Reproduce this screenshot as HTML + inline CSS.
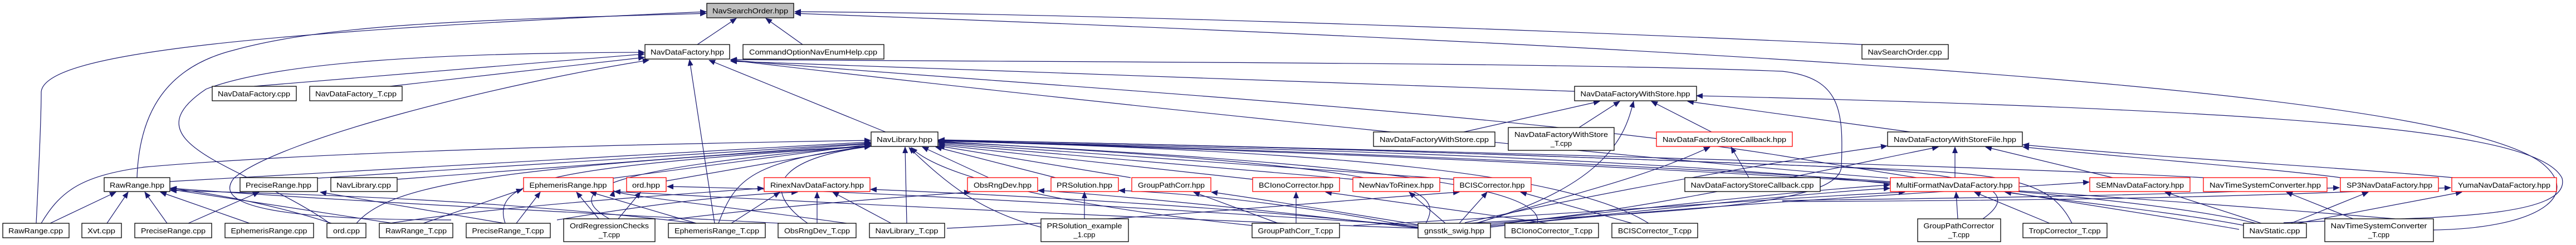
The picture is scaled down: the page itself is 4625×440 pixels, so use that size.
<!DOCTYPE html>
<html><head><meta charset="utf-8"><style>
html,body{margin:0;padding:0;background:#fff;}
svg{display:block;}
text{font-family:"Liberation Sans",Arial,sans-serif;font-size:13px;fill:#000;}
.e{fill:none;stroke:#191970;stroke-width:1.2;marker-end:url(#a);}
.n{fill:#fff;stroke:#000;stroke-width:1.3;}
.r{fill:#fff;stroke:#f00;stroke-width:1.3;}
</style></head><body>
<svg width="4625" height="440" viewBox="0 0 4625 440" xmlns="http://www.w3.org/2000/svg">
<defs><marker id="a" markerUnits="userSpaceOnUse" markerWidth="12" markerHeight="10" refX="11" refY="5" orient="auto"><path d="M0,0 L12,5 L0,10 z" fill="#191970"/></marker></defs>
<g>
<!-- to NavSearchOrder.hpp -->
<path class="e" d="M1252,80 L1322,33"/>
<path class="e" d="M1441,80 L1375,33"/>
<path class="e" d="M65,401 C70,300 74,200 74,165 C80,100 400,60 1268,21"/>
<path class="e" d="M246,319 C250,200 300,120 420,90 C600,40 900,35 1268,24"/>
<path class="e" d="M3343,80 C2800,55 2000,25 1427,21"/>
<path class="e" d="M4369,413 C4560,410 4640,350 4560,290 C4400,180 3500,100 1427,24"/>
<path class="e" d="M4100,400 C4300,390 4620,400 4600,320 C4560,240 4200,200 3046,172"/>
<!-- to NavDataFactory.hpp -->
<path class="e" d="M456,155 L1157,97"/>
<path class="e" d="M700,155 L1157,103"/>
<path class="e" d="M592,401 C450,300 220,260 370,160 C500,110 800,95 1157,94"/>
<path class="e" d="M810,395 C500,395 380,370 420,320 C500,250 900,150 1165,108"/>
<path class="e" d="M1283,401 L1238,107"/>
<path class="e" d="M1590,237 L1273,108"/>
<path class="e" d="M2635,401 C3000,380 3300,370 3306,300 C3310,200 3306,140 3200,128 C2800,112 2000,112 1312,107"/>
<path class="e" d="M2827,164 C2300,150 1800,125 1312,110"/>
<path class="e" d="M3390,320 C3000,290 2000,190 1312,108"/>
<path class="e" d="M4020,412 C3900,390 3500,330 3200,280 C2700,200 1800,150 1312,108"/>
<!-- to NavDataFactoryWithStore.hpp -->
<path class="e" d="M2628,237 L2872,182"/>
<path class="e" d="M2835,229 L2908,182"/>
<path class="e" d="M2650,401 C2900,330 2920,230 2933,182"/>
<path class="e" d="M3073,237 L2965,182"/>
<path class="e" d="M3430,237 L3030,182"/>
<!-- to NavDataFactoryStoreCallback.hpp -->
<path class="e" d="M2650,401 C2850,340 2950,320 3070,264"/>
<path class="e" d="M3140,319 L3108,264"/>
<!-- to NavDataFactoryWithStoreFile.hpp -->
<path class="e" d="M2630,400 C2900,340 3250,280 3388,262"/>
<path class="e" d="M3510,319 L3510,264"/>
<path class="e" d="M2676,401 C2900,390 3300,300 3480,264"/>
<path class="e" d="M3793,319 L3565,264"/>
<path class="e" d="M4404,319 C4200,300 3900,285 3632,260"/>
<path class="e" d="M4202,319 C4100,305 3900,290 3632,264"/>
<!-- to NavLibrary.hpp (left) -->
<path class="e" d="M74,401 C110,340 150,315 260,300 C600,270 1200,258 1563,252"/>
<path class="e" d="M305,326 L1563,255"/>
<path class="e" d="M570,320 L1563,257"/>
<path class="e" d="M713,322 L1563,258"/>
<path class="e" d="M1101,320 L1563,259"/>
<path class="e" d="M1196,325 L1563,261"/>
<path class="e" d="M640,401 C700,330 900,300 1563,262"/>
<path class="e" d="M907,401 C880,320 1000,300 1563,262"/>
<path class="e" d="M1094,393 C1000,340 1100,300 1563,262"/>
<path class="e" d="M1290,401 C1320,320 1350,290 1563,262"/>
<path class="e" d="M1450,401 C1350,330 1420,280 1563,263"/>
<!-- to NavLibrary.hpp (bottom/right) -->
<path class="e" d="M1628,401 L1625,264"/>
<path class="e" d="M1775,319 L1656,264"/>
<path class="e" d="M1895,319 L1680,264"/>
<path class="e" d="M2030,319 L1685,262"/>
<path class="e" d="M2249,322 L1685,260"/>
<path class="e" d="M2429,322 L1685,258"/>
<path class="e" d="M2610,322 L1685,256"/>
<path class="e" d="M1869,408 C1760,380 1700,330 1632,265"/>
<path class="e" d="M2248,405 C2000,380 1700,330 1636,265"/>
<path class="e" d="M2560,401 C2600,330 2500,300 1685,254"/>
<path class="e" d="M2760,401 C2780,330 2400,290 1685,255"/>
<path class="e" d="M2960,401 C2800,300 2300,270 1685,253"/>
<path class="e" d="M3394,330 C3000,290 2500,270 1685,253"/>
<path class="e" d="M3560,393 C3650,330 3500,310 3300,300 C2800,280 2200,260 1685,252"/>
<path class="e" d="M3720,401 C3680,320 3600,310 3300,300 C2800,280 2200,260 1685,252"/>
<path class="e" d="M3956,319 C3600,300 2600,270 1685,251"/>
<path class="e" d="M4050,401 C3800,340 3000,290 1685,252"/>
<path class="e" d="M4300,393 C3900,360 3000,290 1685,253"/>
<!-- RawRange.hpp -->
<path class="e" d="M90,401 L208,345"/>
<path class="e" d="M192,401 L230,345"/>
<path class="e" d="M300,401 L260,345"/>
<path class="e" d="M448,401 L288,345"/>
<path class="e" d="M595,401 C500,370 400,350 306,338"/>
<path class="e" d="M705,401 L306,340"/>
<path class="e" d="M1250,401 C900,360 600,350 306,342"/>
<path class="e" d="M1400,401 C1000,380 600,360 306,338"/>
<!-- PreciseRange.hpp -->
<path class="e" d="M338,401 L465,345"/>
<path class="e" d="M905,401 L575,345"/>
<!-- EphemerisRange.hpp -->
<path class="e" d="M927,401 L970,345"/>
<path class="e" d="M1075,393 L1035,345"/>
<path class="e" d="M1250,401 L1060,345"/>
<path class="e" d="M760,401 L938,340"/>
<path class="e" d="M1520,401 C1300,370 1100,350 1102,342"/>
<path class="e" d="M2546,410 C2000,390 1400,360 1103,344"/>
<!-- ord.hpp -->
<path class="e" d="M1110,393 L1150,345"/>
<path class="e" d="M2550,405 C2000,370 1500,340 1198,335"/>
<!-- RinexNavDataFactory -->
<path class="e" d="M1313,401 L1400,345"/>
<path class="e" d="M1467,401 L1467,345"/>
<path class="e" d="M1600,401 L1495,345"/>
<path class="e" d="M700,401 C900,370 1200,350 1371,338"/>
<path class="e" d="M1000,395 C1150,370 1300,350 1432,345"/>
<path class="e" d="M2548,408 C2200,370 1800,350 1563,340"/>
<!-- ObsRngDev.hpp, PRSolution, GroupPathCorr -->
<path class="e" d="M1200,395 C1400,370 1600,355 1742,345"/>
<path class="e" d="M2548,410 C2300,380 2000,350 1864,342"/>
<path class="e" d="M1947,393 L1947,345"/>
<path class="e" d="M2550,410 C2400,380 2200,350 2009,342"/>
<path class="e" d="M2295,401 L2143,345"/>
<path class="e" d="M2555,405 C2400,380 2250,355 2175,345"/>
<!-- BCIono, NewNav, BCIS -->
<path class="e" d="M2327,401 L2327,345"/>
<path class="e" d="M2780,401 L2380,345"/>
<path class="e" d="M2595,401 L2530,345"/>
<path class="e" d="M2620,401 L2670,345"/>
<path class="e" d="M1700,410 C2100,390 2400,360 2620,345"/>
<path class="e" d="M2930,401 L2730,345"/>
<!-- MultiFormat, SEM, NavTSC, SP3, Yuma -->
<path class="e" d="M3515,393 L3512,345"/>
<path class="e" d="M3680,401 L3545,345"/>
<path class="e" d="M4030,405 C3900,380 3700,360 3600,345"/>
<path class="e" d="M2676,404 C2900,380 3200,345 3393,332"/>
<path class="e" d="M2676,406 C2900,385 3200,350 3393,338"/>
<path class="e" d="M2430,405 C2900,380 3200,355 3420,345"/>
<path class="e" d="M4060,401 L3887,345"/>
<path class="e" d="M2676,408 C3000,370 3500,345 3751,327"/>
<path class="e" d="M4225,393 L4105,345"/>
<path class="e" d="M4113,401 L4252,345"/>
<path class="e" d="M4125,401 L4420,345"/>
<path class="e" d="M3200,360 C3600,355 3900,350 4200,337"/>
<path class="e" d="M3200,362 C3700,360 4000,355 4400,337"/>
</g>
<g>
<rect x="1269" y="6" width="156" height="26" fill="#bfbfbf" stroke="#000" stroke-width="1.3"/><text x="1347" y="24" text-anchor="middle" textLength="136" lengthAdjust="spacingAndGlyphs">NavSearchOrder.hpp</text>

<rect class="n" x="1158" y="80" width="152" height="26"/><text x="1234" y="98" text-anchor="middle" textLength="132" lengthAdjust="spacingAndGlyphs">NavDataFactory.hpp</text>
<rect class="n" x="1334" y="80" width="253" height="26"/><text x="1460" y="98" text-anchor="middle" textLength="230" lengthAdjust="spacingAndGlyphs">CommandOptionNavEnumHelp.cpp</text>
<rect class="n" x="3343" y="80" width="155" height="26"/><text x="3420" y="98" text-anchor="middle" textLength="133" lengthAdjust="spacingAndGlyphs">NavSearchOrder.cpp</text>

<rect class="n" x="381" y="155" width="151" height="26"/><text x="456" y="173" text-anchor="middle" textLength="130" lengthAdjust="spacingAndGlyphs">NavDataFactory.cpp</text>
<rect class="n" x="556" y="155" width="166" height="26"/><text x="639" y="173" text-anchor="middle" textLength="146" lengthAdjust="spacingAndGlyphs">NavDataFactory_T.cpp</text>
<rect class="n" x="2827" y="155" width="219" height="26"/><text x="2936" y="173" text-anchor="middle" textLength="197" lengthAdjust="spacingAndGlyphs">NavDataFactoryWithStore.hpp</text>

<rect class="n" x="1564" y="237" width="120" height="26"/><text x="1624" y="255" text-anchor="middle" textLength="100" lengthAdjust="spacingAndGlyphs">NavLibrary.hpp</text>
<rect class="n" x="2466" y="237" width="218" height="26"/><text x="2575" y="255" text-anchor="middle" textLength="196" lengthAdjust="spacingAndGlyphs">NavDataFactoryWithStore.cpp</text>
<rect class="n" x="2708" y="229" width="190" height="41"/><text x="2803" y="246" text-anchor="middle" textLength="168" lengthAdjust="spacingAndGlyphs">NavDataFactoryWithStore</text><text x="2803" y="262" text-anchor="middle">_T.cpp</text>
<rect class="r" x="2974" y="237" width="244" height="26"/><text x="3096" y="255" text-anchor="middle" textLength="222" lengthAdjust="spacingAndGlyphs">NavDataFactoryStoreCallback.hpp</text>
<rect class="n" x="3389" y="237" width="242" height="26"/><text x="3510" y="255" text-anchor="middle" textLength="220" lengthAdjust="spacingAndGlyphs">NavDataFactoryWithStoreFile.hpp</text>

<rect class="n" x="187" y="319" width="118" height="25"/><text x="246" y="337" text-anchor="middle" textLength="98" lengthAdjust="spacingAndGlyphs">RawRange.hpp</text>
<rect class="n" x="431" y="319" width="139" height="25"/><text x="500" y="337" text-anchor="middle" textLength="118" lengthAdjust="spacingAndGlyphs">PreciseRange.hpp</text>
<rect class="n" x="594" y="319" width="119" height="25"/><text x="653" y="337" text-anchor="middle" textLength="98" lengthAdjust="spacingAndGlyphs">NavLibrary.cpp</text>
<rect class="r" x="940" y="319" width="161" height="25"/><text x="1020" y="337" text-anchor="middle" textLength="139" lengthAdjust="spacingAndGlyphs">EphemerisRange.hpp</text>
<rect class="r" x="1125" y="319" width="71" height="25"/><text x="1160" y="337" text-anchor="middle" textLength="50" lengthAdjust="spacingAndGlyphs">ord.hpp</text>
<rect class="r" x="1372" y="319" width="190" height="25"/><text x="1467" y="337" text-anchor="middle" textLength="168" lengthAdjust="spacingAndGlyphs">RinexNavDataFactory.hpp</text>
<rect class="r" x="1737" y="319" width="126" height="25"/><text x="1800" y="337" text-anchor="middle" textLength="104" lengthAdjust="spacingAndGlyphs">ObsRngDev.hpp</text>
<rect class="r" x="1887" y="319" width="121" height="25"/><text x="1947" y="337" text-anchor="middle" textLength="100" lengthAdjust="spacingAndGlyphs">PRSolution.hpp</text>
<rect class="r" x="2032" y="319" width="142" height="25"/><text x="2103" y="337" text-anchor="middle" textLength="120" lengthAdjust="spacingAndGlyphs">GroupPathCorr.hpp</text>
<rect class="r" x="2249" y="319" width="156" height="25"/><text x="2327" y="337" text-anchor="middle" textLength="134" lengthAdjust="spacingAndGlyphs">BCIonoCorrector.hpp</text>
<rect class="r" x="2429" y="319" width="156" height="25"/><text x="2507" y="337" text-anchor="middle" textLength="134" lengthAdjust="spacingAndGlyphs">NewNavToRinex.hpp</text>
<rect class="r" x="2610" y="319" width="139" height="25"/><text x="2679" y="337" text-anchor="middle" textLength="117" lengthAdjust="spacingAndGlyphs">BCISCorrector.hpp</text>
<rect class="n" x="3025" y="319" width="243" height="25"/><text x="3146" y="337" text-anchor="middle" textLength="221" lengthAdjust="spacingAndGlyphs">NavDataFactoryStoreCallback.cpp</text>
<rect class="r" x="3394" y="319" width="231" height="25"/><text x="3509" y="337" text-anchor="middle" textLength="209" lengthAdjust="spacingAndGlyphs">MultiFormatNavDataFactory.hpp</text>
<rect class="r" x="3752" y="319" width="180" height="25"/><text x="3842" y="337" text-anchor="middle" textLength="158" lengthAdjust="spacingAndGlyphs">SEMNavDataFactory.hpp</text>
<rect class="r" x="3956" y="319" width="222" height="25"/><text x="4067" y="337" text-anchor="middle" textLength="200" lengthAdjust="spacingAndGlyphs">NavTimeSystemConverter.hpp</text>
<rect class="r" x="4202" y="319" width="176" height="25"/><text x="4290" y="337" text-anchor="middle" textLength="154" lengthAdjust="spacingAndGlyphs">SP3NavDataFactory.hpp</text>
<rect class="r" x="4402" y="319" width="188" height="25"/><text x="4496" y="337" text-anchor="middle" textLength="166" lengthAdjust="spacingAndGlyphs">YumaNavDataFactory.hpp</text>

<rect class="n" x="5" y="401" width="119" height="26"/><text x="64" y="419" text-anchor="middle" textLength="98" lengthAdjust="spacingAndGlyphs">RawRange.cpp</text>
<rect class="n" x="147" y="401" width="71" height="26"/><text x="182" y="419" text-anchor="middle" textLength="50" lengthAdjust="spacingAndGlyphs">Xvt.cpp</text>
<rect class="n" x="242" y="401" width="138" height="26"/><text x="311" y="419" text-anchor="middle" textLength="116" lengthAdjust="spacingAndGlyphs">PreciseRange.cpp</text>
<rect class="n" x="404" y="401" width="159" height="26"/><text x="483" y="419" text-anchor="middle" textLength="137" lengthAdjust="spacingAndGlyphs">EphemerisRange.cpp</text>
<rect class="n" x="587" y="401" width="70" height="26"/><text x="622" y="419" text-anchor="middle" textLength="48" lengthAdjust="spacingAndGlyphs">ord.cpp</text>
<rect class="n" x="681" y="401" width="132" height="26"/><text x="747" y="419" text-anchor="middle" textLength="110" lengthAdjust="spacingAndGlyphs">RawRange_T.cpp</text>
<rect class="n" x="837" y="401" width="151" height="26"/><text x="912" y="419" text-anchor="middle" textLength="129" lengthAdjust="spacingAndGlyphs">PreciseRange_T.cpp</text>
<rect class="n" x="1012" y="393" width="164" height="41"/><text x="1094" y="410" text-anchor="middle" textLength="142" lengthAdjust="spacingAndGlyphs">OrdRegressionChecks</text><text x="1094" y="426" text-anchor="middle">_T.cpp</text>
<rect class="n" x="1200" y="401" width="174" height="26"/><text x="1287" y="419" text-anchor="middle" textLength="152" lengthAdjust="spacingAndGlyphs">EphemerisRange_T.cpp</text>
<rect class="n" x="1397" y="401" width="140" height="26"/><text x="1467" y="419" text-anchor="middle" textLength="118" lengthAdjust="spacingAndGlyphs">ObsRngDev_T.cpp</text>
<rect class="n" x="1561" y="401" width="135" height="26"/><text x="1628" y="419" text-anchor="middle" textLength="113" lengthAdjust="spacingAndGlyphs">NavLibrary_T.cpp</text>
<rect class="n" x="1869" y="393" width="157" height="41"/><text x="1947" y="410" text-anchor="middle" textLength="135" lengthAdjust="spacingAndGlyphs">PRSolution_example</text><text x="1947" y="426" text-anchor="middle">_1.cpp</text>
<rect class="n" x="2248" y="401" width="157" height="26"/><text x="2326" y="419" text-anchor="middle" textLength="135" lengthAdjust="spacingAndGlyphs">GroupPathCorr_T.cpp</text>
<rect class="n" x="2546" y="401" width="130" height="26"/><text x="2611" y="419" text-anchor="middle" textLength="108" lengthAdjust="spacingAndGlyphs">gnsstk_swig.hpp</text>
<rect class="n" x="2702" y="401" width="168" height="26"/><text x="2786" y="419" text-anchor="middle" textLength="146" lengthAdjust="spacingAndGlyphs">BCIonoCorrector_T.cpp</text>
<rect class="n" x="2894" y="401" width="154" height="26"/><text x="2971" y="419" text-anchor="middle" textLength="132" lengthAdjust="spacingAndGlyphs">BCISCorrector_T.cpp</text>
<rect class="n" x="3443" y="393" width="149" height="41"/><text x="3517" y="410" text-anchor="middle" textLength="127" lengthAdjust="spacingAndGlyphs">GroupPathCorrector</text><text x="3517" y="426" text-anchor="middle">_T.cpp</text>
<rect class="n" x="3632" y="401" width="151" height="26"/><text x="3707" y="419" text-anchor="middle" textLength="129" lengthAdjust="spacingAndGlyphs">TropCorrector_T.cpp</text>
<rect class="n" x="4028" y="401" width="113" height="26"/><text x="4084" y="419" text-anchor="middle" textLength="91" lengthAdjust="spacingAndGlyphs">NavStatic.cpp</text>
<rect class="n" x="4174" y="393" width="195" height="41"/><text x="4271" y="410" text-anchor="middle" textLength="173" lengthAdjust="spacingAndGlyphs">NavTimeSystemConverter</text><text x="4271" y="426" text-anchor="middle">_T.cpp</text>
</g>
</svg>
</body></html>
